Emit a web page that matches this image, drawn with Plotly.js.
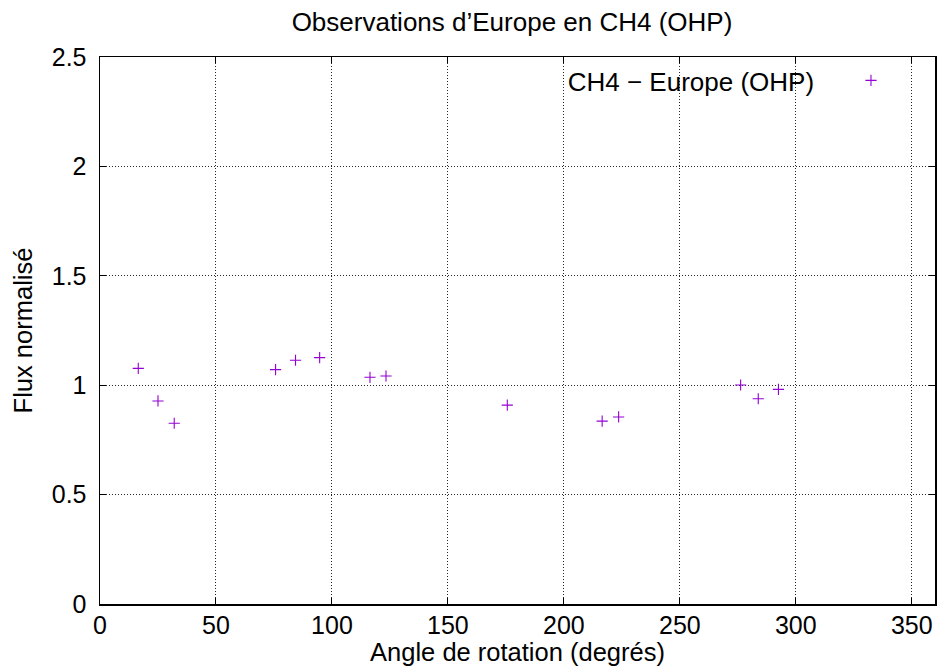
<!DOCTYPE html>
<html>
<head>
<meta charset="utf-8">
<script src="https://cdn.plot.ly/plotly-3.0.1.min.js"></script>
<style>html,body{margin:0;padding:0;background:#fff;}#chart{width:941px;height:671px;}</style>
</head>
<body>
<div id="chart"></div>
<script>
const angles = [16.5, 25.0, 32.0, 75.7, 84.3, 94.7, 116.4, 123.3, 175.6, 216.5, 223.6, 276.2, 283.8, 292.5];
const flux = [1.077, 0.928, 0.826, 1.071, 1.114, 1.126, 1.036, 1.042, 0.909, 0.836, 0.855, 1.001, 0.938, 0.981];
const seriesName = "CH4 \u2212 Europe (OHP)";
const xTicks = [0, 50, 100, 150, 200, 250, 300, 350];
const yTicks = [0, 0.5, 1, 1.5, 2, 2.5];
const yTickLabels = ["0", "0.5", "1", "1.5", "2", "2.5"];

const FONT = "Liberation Sans, Arial, Helvetica, sans-serif";
const purple = "#9400D3";

const trace = {
  x: angles, y: flux, mode: "markers", type: "scatter",
  name: "", showlegend: true,
  marker: {symbol: "cross-thin-open", size: 8, color: purple, line: {color: purple, width: 1.1}}
};

const axisCommon = {
  showline: true, linecolor: "#000", linewidth: 1.5, mirror: "ticks",
  ticks: "inside", ticklen: 6, tickwidth: 1, tickcolor: "#000",
  showgrid: true, gridcolor: "rgba(0,0,0,0.85)", griddash: "1px,2px", gridwidth: 1,
  zeroline: false, tickfont: {family: FONT, size: 25, color: "#000"}
};

const layout = {
  width: 941, height: 671,
  margin: {l: 100, r: 6, t: 57, b: 67},
  paper_bgcolor: "#fff", plot_bgcolor: "#fff",
  font: {family: FONT, color: "#000"},
  title: {text: "Observations d\u2019Europe en CH4 (OHP)", font: {family: FONT, size: 26, color: "#000"},
          x: 512/941, xref: "container", xanchor: "center", y: 1 - 22/671, yref: "container", yanchor: "middle"},
  xaxis: Object.assign({}, axisCommon, {
    range: [0, 360], tickvals: xTicks, ticktext: xTicks.map(String), ticklabelstandoff: -2,
    title: {text: "Angle de rotation (degr\u00e9s)", font: {family: FONT, size: 25.5, color: "#000"}, standoff: 0}
  }),
  yaxis: Object.assign({}, axisCommon, {
    range: [0, 2.5], tickvals: yTicks, ticktext: yTickLabels, ticklabelstandoff: 7,
    title: {text: "Flux normalis\u00e9", font: {family: FONT, size: 25.5, color: "#000"}, standoff: 12}
  }),
  showlegend: true,
  legend: {
    x: (566 - 100) / 835.5, xanchor: "left", y: 1, yanchor: "top",
    bgcolor: "rgba(0,0,0,0)", borderwidth: 0,
    font: {family: FONT, size: 26, color: "#000"},
    title: {text: seriesName + "\u00a0\u00a0\u00a0\u00a0", side: "left", font: {family: FONT, size: 26, color: "#000"}},
    itemwidth: 30
  }
};

Plotly.newPlot("chart", [trace], layout, {staticPlot: true, displayModeBar: false});
</script>
</body>
</html>
